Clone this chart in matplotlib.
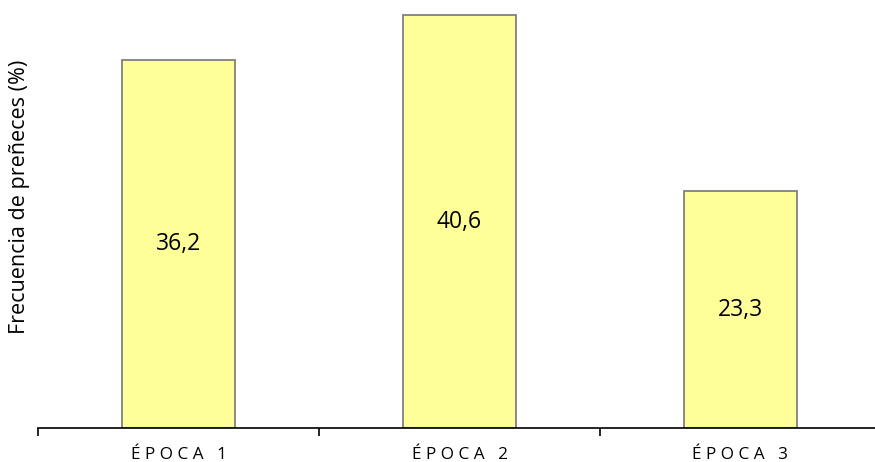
import matplotlib
matplotlib.use("Agg")
import matplotlib.pyplot as plt

categories = ["ÉPOCA 1", "ÉPOCA 2", "ÉPOCA 3"]
values = [36.2, 40.6, 23.3]
value_labels = ["36,2", "40,6", "23,3"]
ylabel = "Frecuencia de preñeces (%)"

plt.rcParams["font.family"] = ["Open Sans", "DejaVu Sans"]

W, H = 875, 462
fig = plt.figure(figsize=(W / 100, H / 100), dpi=100)
# axes box in pixel terms: left 38, bottom 34, right 881, top 1
ax = fig.add_axes([38 / W, 34 / H, (881 - 38) / W, (461 - 34) / H])

x = list(range(len(categories)))
ax.bar(x, values, width=0.4, color="#FFFF99", edgecolor="#808080", linewidth=1.3, zorder=2)

for xi, v, lab in zip(x, values, value_labels):
    ax.text(xi, v / 2, lab, ha="center", va="center", fontsize=16.5, color="black")

ax.set_xlim(-0.5, 2.5)
ax.set_ylim(0, 42)

ax.set_xticks([-0.5, 0.5, 1.5, 2.5])
ax.set_xticklabels([])
ax.set_xticks(x, minor=True)
ax.set_xticklabels([" ".join(c.replace(" ", "")[:-1]) + "   " + c[-1] for c in categories],
                   minor=True, fontsize=12.3)
ax.tick_params(axis="x", which="major", length=6, width=1.2, direction="out", color="black")
ax.tick_params(axis="x", which="minor", length=0, pad=14)

ax.set_yticks([])
for side in ["top", "right", "left"]:
    ax.spines[side].set_visible(False)
ax.spines["bottom"].set_linewidth(1.2)

fig.text(20 / W, 1 - 197 / H, ylabel, rotation=90, ha="center", va="center", fontsize=15.5)

fig.savefig("out.png", dpi=100)
